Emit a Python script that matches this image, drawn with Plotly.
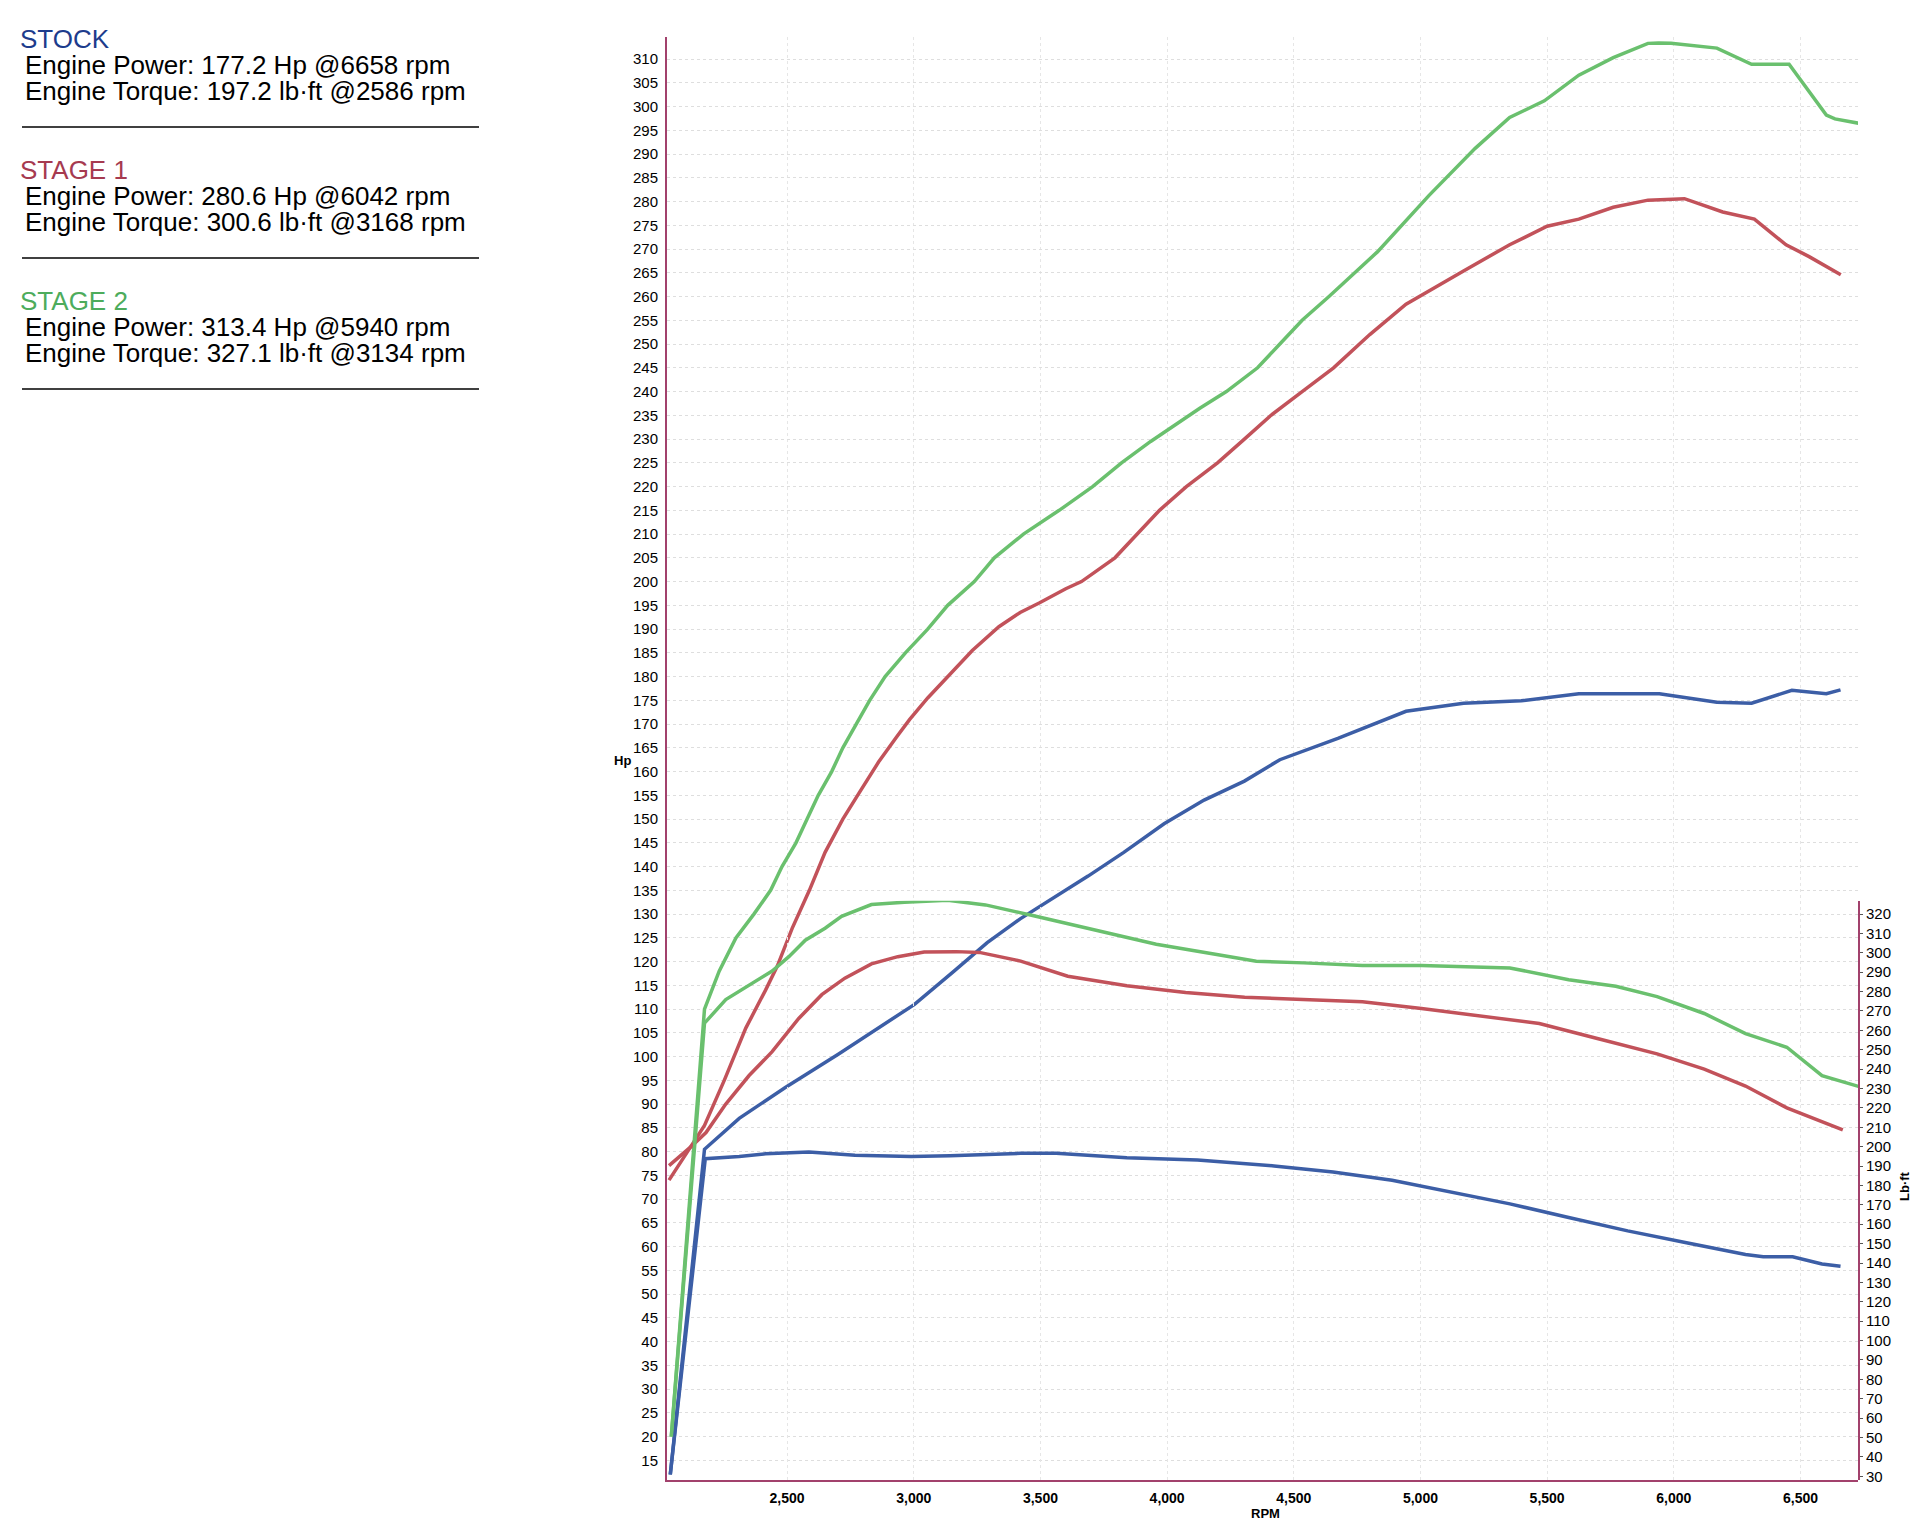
import plotly.graph_objects as go

# dyno readings
stock_hp_rpm = [2039, 2174, 2311, 2493, 2702, 2833, 3003, 3159, 3290, 3420, 3539, 3688, 3829, 3988,
                4146, 4305, 4445, 4674, 4943, 5170, 5398, 5625, 5943, 6170, 6307, 6466, 6602, 6658]
stock_hp = [12, 80.5, 87, 93.5, 100.5, 105, 111, 118, 124, 129, 133, 138, 143, 149,
            154, 158, 162.5, 167, 172.7, 174.4, 174.9, 176.4, 176.4, 174.6, 174.4, 177.1, 176.4, 177.2]
stock_tq_rpm = [2039, 2177, 2311, 2415, 2586, 2768, 2990, 3143, 3422, 3562, 3841, 4120, 4422, 4655,
                4888, 5120, 5353, 5585, 5818, 6050, 6283, 6353, 6469, 6585, 6658]
stock_tq = [31, 193.8, 195, 196.3, 197.2, 195.6, 195, 195.3, 196.6, 196.6, 194.3, 193.1, 190.1, 187,
            182.7, 176.6, 170.5, 163.5, 156.6, 150.5, 144.4, 143.2, 143.2, 139.5, 138.3]

stage1_hp_rpm = [2034, 2115, 2174, 2252, 2337, 2415, 2461, 2520, 2588, 2650, 2720, 2790, 2861, 2935,
                 2984, 3055, 3143, 3231, 3336, 3420, 3495, 3600, 3662, 3794, 3882, 3970, 4076, 4199,
                 4305, 4410, 4533, 4657, 4800, 4943, 5170, 5352, 5500, 5625, 5761, 5898, 6042, 6193,
                 6318, 6443, 6534, 6659]
stage1_hp = [74, 80.5, 85.5, 95, 106, 114, 119, 127, 135, 143, 150, 156, 162, 167.5,
             171, 175.5, 180.5, 185.5, 190.5, 193.5, 195.5, 198.5, 200, 205, 210, 215, 220, 225,
             230, 235, 240, 245, 252, 258.4, 265.4, 270.9, 274.8, 276.3, 278.8, 280.3, 280.6, 277.8,
             276.3, 270.9, 268.4, 264.6]
stage1_tq_rpm = [2034, 2121, 2180, 2258, 2350, 2441, 2546, 2637, 2728, 2833, 2937, 3041, 3168, 3259,
                 3422, 3608, 3841, 4073, 4306, 4632, 4771, 5004, 5236, 5469, 5702, 5934, 6120, 6283,
                 6446, 6667]
stage1_tq = [190.2, 200, 207.3, 222, 236.7, 249, 266.1, 278.4, 286.9, 294.3, 298, 300.4, 300.6, 300.2,
             295.7, 287.9, 283, 279.5, 277.1, 275.7, 274.8, 271.3, 267.3, 263.5, 255.7, 247.9, 240, 231.3,
             220, 208.7]

stage2_hp_rpm = [2043, 2174, 2232, 2298, 2369, 2435, 2480, 2535, 2579, 2623, 2676, 2720, 2773, 2826,
                 2887, 2967, 3055, 3134, 3239, 3318, 3433, 3574, 3706, 3820, 3935, 4129, 4234, 4357,
                 4445, 4533, 4639, 4830, 5034, 5216, 5352, 5489, 5625, 5761, 5898, 5940, 5989, 6170,
                 6307, 6455, 6602, 6636, 6739]
stage2_hp = [20, 110, 118, 125, 130, 135, 140, 145, 150, 155, 160, 165, 170, 175,
             180, 185, 190, 195, 200, 205, 210, 215, 220, 225, 229.5, 236.5, 240, 245,
             250, 255, 260, 269.4, 281.3, 291.2, 297.7, 301.2, 306.6, 310.3, 313.3, 313.4, 313.3, 312.3,
             308.9, 308.9, 298.2, 297.4, 296.4]
stage2_tq_rpm = [2043, 2174, 2258, 2350, 2441, 2507, 2572, 2650, 2715, 2833, 2963, 3134, 3283, 3469,
                 3725, 3957, 4190, 4352, 4539, 4771, 5004, 5353, 5585, 5771, 5934, 6120, 6283, 6446,
                 6585, 6737]
stage2_tq = [50.5, 263.7, 275.9, 283.3, 290.6, 298, 306.5, 312.7, 318.8, 324.9, 326.1, 327.1, 324.7, 319.2,
             311.3, 304.4, 299.2, 295.7, 294.8, 293.4, 293.4, 292.2, 286.1, 282.7, 277.4, 268.7, 258.3, 251.3,
             236.6, 230.8]

rpm_ticks = [2500, 3000, 3500, 4000, 4500, 5000, 5500, 6000, 6500]
hp_ticks = list(range(15, 311, 5))
tq_ticks = list(range(30, 321, 10))

summary = [
  ('STOCK', '#1d3c8c', 'Engine Power: 177.2 Hp @6658 rpm', 'Engine Torque: 197.2 lb·ft @2586 rpm'),
  ('STAGE 1', '#a63a50', 'Engine Power: 280.6 Hp @6042 rpm', 'Engine Torque: 300.6 lb·ft @3168 rpm'),
  ('STAGE 2', '#4dac5c', 'Engine Power: 313.4 Hp @5940 rpm', 'Engine Torque: 327.1 lb·ft @3134 rpm'),
]

# page is 1920x1519, the html body shifts the figure by 8px
OFF = 8
W, H = 1920, 1519
PL, PR, PT, PB = 667, 1858, 37, 1480  # plot box in page pixels
L, R, T, B = PL - OFF, W - (PR - OFF), PT - OFF, H - (PB - OFF)
font = 'Liberation Sans, Arial, sans-serif'
axis_color = '#a2416c'

def px(x):
  return (x - PL) / (PR - PL)

def py(y):
  return (PB - y) / (PB - PT)

fig = go.Figure()

series = [
  (stock_hp_rpm, stock_hp, stock_tq_rpm, stock_tq, '#3c5ea6'),
  (stage1_hp_rpm, stage1_hp, stage1_tq_rpm, stage1_tq, '#c2525a'),
  (stage2_hp_rpm, stage2_hp, stage2_tq_rpm, stage2_tq, '#6ac06e'),
]

for hp_rpm, hp, tq_rpm, tq, color in series:
  fig.add_trace(go.Scatter(x=hp_rpm, y=hp, mode='lines', line=dict(color=color, width=3.5),
                           showlegend=False, yaxis='y'))
  fig.add_trace(go.Scatter(x=tq_rpm, y=tq, mode='lines', line=dict(color=color, width=3.5),
                           showlegend=False, yaxis='y2'))

def label(text, x, y, size, color='black', angle=0, anchor='center'):
  return dict(text=text, x=px(x), y=py(y), xref='paper', yref='paper',
              xanchor=anchor, yanchor='middle', showarrow=False, textangle=angle,
              font=dict(family=font, size=size, color=color))

annotations = []
shapes = []
for i, (name, color, power, torque) in enumerate(summary):
  y0 = 39 + i * 131
  annotations.append(label(name, 18, y0, 26, color, anchor='left'))
  annotations.append(label(power, 23, y0 + 26, 26, anchor='left'))
  annotations.append(label(torque, 23, y0 + 52, 26, anchor='left'))
  shapes.append(dict(type='line', xref='paper', yref='paper', x0=px(22), x1=px(479),
                     y0=py(y0 + 88), y1=py(y0 + 88), line=dict(color='black', width=1.5)))

annotations.append(label('<b>Hp</b>', 622, 760, 13))
annotations.append(label('<b>Lb·ft</b>', 1904, 1186, 13, angle=-90))
annotations.append(label('<b>RPM</b>', 1265, 1513, 13))

fig.update_layout(
  width=W,
  height=H,
  margin=dict(l=L, r=R, t=T, b=B, pad=0),
  paper_bgcolor='white',
  plot_bgcolor='rgba(0,0,0,0)',
  font=dict(family=font, color='black'),
  annotations=annotations,
  shapes=shapes,
  xaxis=dict(
    range=[2026, 6727],
    tickvals=rpm_ticks,
    tickformat=',',
    tickfont=dict(size=14, color='black', weight='bold'),
    showline=True, linecolor=axis_color, linewidth=2,
    showgrid=True, gridcolor='#e6e6e6', griddash='dot', gridwidth=1,
    zeroline=False, ticks='', ticklabelstandoff=4,
  ),
  yaxis=dict(
    range=[10.87, 314.64],
    tickvals=hp_ticks,
    tickfont=dict(size=15, color='black'),
    showline=True, linecolor=axis_color, linewidth=2,
    showgrid=True, gridcolor='#dedede', griddash='dot', gridwidth=1,
    zeroline=False, ticks='', ticklabelstandoff=4,
  ),
  yaxis2=dict(
    domain=[0, 0.4015],
    anchor='x',
    side='right',
    range=[28.1, 326.9],
    tickvals=tq_ticks,
    tickfont=dict(size=15, color='black'),
    showline=True, linecolor=axis_color, linewidth=2,
    showgrid=False, zeroline=False,
    ticks='outside', ticklen=3, tickcolor='#555555',
  ),
)

fig.write_html('out.html')
